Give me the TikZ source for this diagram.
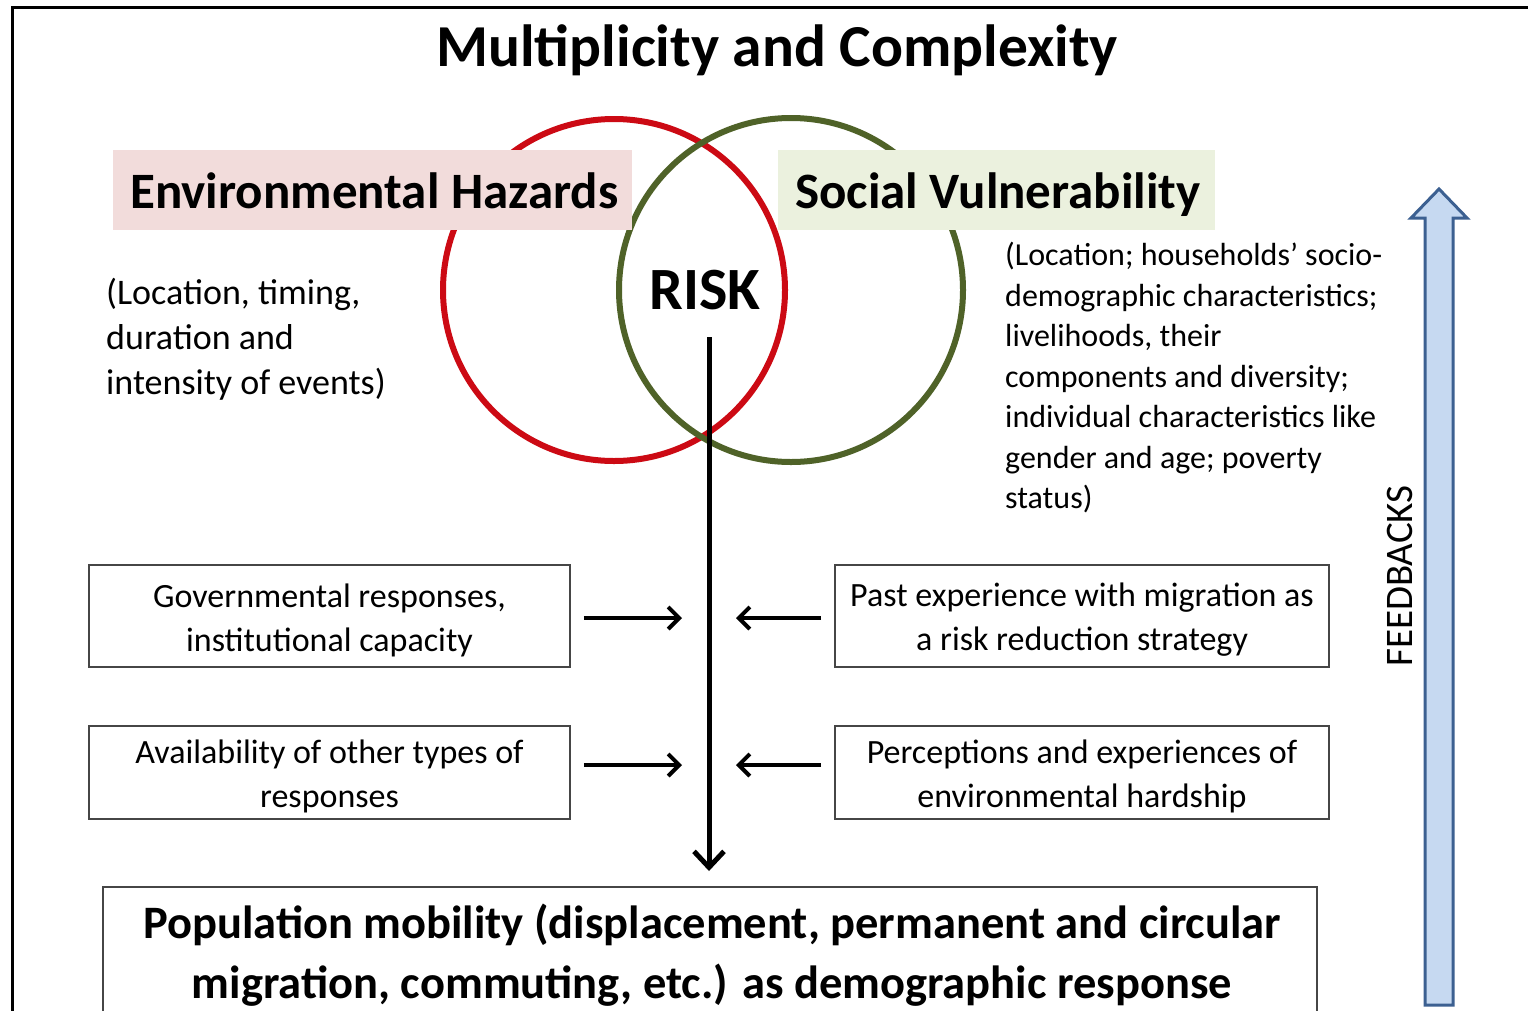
\documentclass[tikz,border=0pt]{standalone}
\usepackage{fontspec}
\setmainfont{Carlito}
\usetikzlibrary{arrows.meta}
\definecolor{hazred}{RGB}{204,10,20}
\definecolor{vulgreen}{RGB}{79,98,40}
\definecolor{hazfill}{RGB}{242,220,219}
\definecolor{vulfill}{RGB}{235,241,222}
\definecolor{fbfill}{RGB}{198,217,241}
\definecolor{fbdraw}{RGB}{60,96,145}
\definecolor{boxgray}{RGB}{70,70,70}
\tikzset{
  infobox/.style={draw=boxgray, line width=1.8pt, minimum width=481pt, minimum height=102pt, inner sep=0pt},
  boxtext/.style={align=center, inner sep=0pt, font=\fontsize{34}{44}\selectfont},
  sidearrow/.style={line width=4pt, -{Straight Barb[length=11pt,width=22pt]}},
  labelbox/.style={inner sep=0pt, minimum height=80pt},
  labeltext/.style={inner sep=0pt, anchor=west, font=\bfseries\fontsize{51}{56}\selectfont},
}
\begin{document}
\begin{tikzpicture}[x=1pt,y=-1pt]
\useasboundingbox (0,0) rectangle (1528,1010);
\clip (0,0) rectangle (1528,1010);
\fill[white] (0,0) rectangle (1528,1010);
% frame
\draw[line width=3pt] (12,1030) -- (12,7) -- (1545,7);
% title
\node[font=\bfseries\fontsize{59.5}{66}\selectfont] (title) at (777,50) {Multiplicity and Complexity};
% circles
\draw[hazred, line width=6pt] (614,290) circle[radius=171];
\draw[vulgreen, line width=6pt] (791,290) circle[radius=172];
% label boxes
\node[labelbox, fill=hazfill, minimum width=519pt, anchor=north west] (haz) at (113,150) {};
\node[labeltext] (haztitle) at ([xshift=17pt, yshift=-1pt]haz.west) {Environmental Hazards};
\node[labelbox, fill=vulfill, minimum width=437pt, anchor=north west] (vul) at (778,150) {};
\node[labeltext] (vultitle) at ([xshift=17pt, yshift=-4pt]vul.west) {Social Vulnerability};
% RISK
\node[font=\bfseries\fontsize{60}{66}\selectfont] (risk) at (705,290) {RISK};
% side texts
\node[anchor=north west, align=left, inner sep=0pt, font=\fontsize{36}{45}\selectfont] (haztext) at (106,278) {(Location, timing,\\duration and\\intensity of events)};
\node[anchor=north west, align=left, inner sep=0pt, font=\fontsize{32}{40.5}\selectfont] (vultext) at (1005,242) {(Location; households’ socio-\\demographic characteristics;\\livelihoods, their\\components and diversity;\\individual characteristics like\\gender and age; poverty\\status)};
% boxes
\node[infobox] (gov) at (329.5,616) {};
\node[boxtext] (govtext) at ([yshift=-4pt]gov.center) {Governmental responses,\\institutional capacity};
\node[infobox, minimum height=93pt] (avail) at (329.5,772.5) {};
\node[boxtext] (availtext) at ([yshift=-4pt]avail.center) {Availability of other types of\\responses};
\node[infobox, minimum width=494pt] (past) at (1082,616) {};
\node[boxtext] (pasttext) at ([yshift=-4pt]past.center) {Past experience with migration as\\a risk reduction strategy};
\node[infobox, minimum width=494pt, minimum height=93pt] (perc) at (1082,772.5) {};
\node[boxtext] (perctext) at ([yshift=-4pt]perc.center) {Perceptions and experiences of\\environmental hardship};
% bottom box
\node[draw=boxgray, line width=1.8pt, anchor=north west, minimum width=1214pt, minimum height=160pt, inner sep=0pt] (pop) at (102,886) {};
\node[font=\bfseries\fontsize{46.5}{60}\selectfont, align=center] (poptext) at (712,955) {Population mobility (displacement, permanent and circular\\migration, commuting, etc.) as demographic response};
% main arrow
\coordinate (mstart) at (709,337);
\draw[line width=5pt, shorten >=15pt, -{Straight Barb[length=16pt,width=30pt]}] (mstart) -- (pop.north -| mstart);
\coordinate (ml1) at (682,618);
\coordinate (mr1) at (736,618);
\coordinate (ml2) at (682,765);
\coordinate (mr2) at (736,765);
\draw[sidearrow] ([xshift=13pt]gov.east |- ml1) -- (ml1);
\draw[sidearrow] ([xshift=-13pt]past.west |- mr1) -- (mr1);
\draw[sidearrow] ([xshift=13pt]avail.east |- ml2) -- (ml2);
\draw[sidearrow] ([xshift=-13pt]perc.west |- mr2) -- (mr2);
% feedback arrow
\draw[fbdraw, fill=fbfill, line width=3pt, line join=miter]
  (1425,1005) -- (1425,218) -- (1411,218) -- (1439,189) -- (1467,218) -- (1453,218) -- (1453,1005) -- cycle;
\node[rotate=90, font=\fontsize{39}{44}\selectfont] (fb) at (1400,576) {FEEDBACKS};
\end{tikzpicture}
\end{document}
